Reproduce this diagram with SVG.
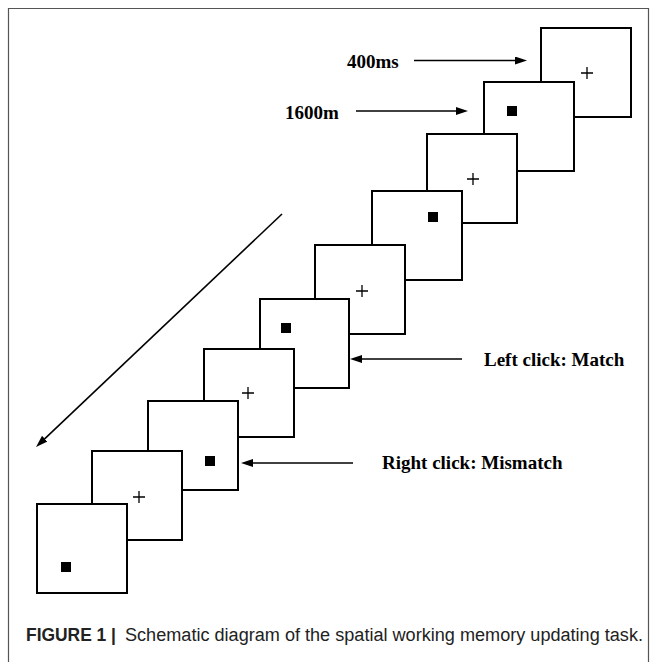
<svg xmlns="http://www.w3.org/2000/svg" width="657" height="662" viewBox="0 0 657 662">
<style>
.frame{fill:none;stroke:#555;stroke-width:1.2}
.box{fill:#fff;stroke:#000;stroke-width:2}
.dot{fill:#000}
.plus{stroke:#000;stroke-width:1.3;fill:none}
.conn{stroke:#000;stroke-width:1.6;fill:none}
.lbl{font-family:"Liberation Serif","Times New Roman",serif;font-weight:bold;font-size:19px;fill:#000}
.cap{font-family:"Liberation Sans",Arial,sans-serif;font-size:18px;fill:#222}
</style>
<defs>
<marker id="ah" viewBox="0 0 12 8" refX="2" refY="4" markerWidth="12" markerHeight="8" markerUnits="userSpaceOnUse" orient="auto">
<path d="M0,0 L12,4 L0,8 z" fill="#000"/>
</marker>
</defs>
<rect width="657" height="662" fill="#fff"/>
<path class="frame" d="M8.5,662 V8.5 H648.5 V662"/>
<g id="b1"><rect class="box" x="541" y="28" width="90" height="89"/><path class="plus" d="M581,73 h12 M587,67 v12"/></g>
<g id="b2"><rect class="box" x="484" y="82" width="90" height="89"/><rect class="dot" x="507" y="106" width="10" height="10"/></g>
<g id="b3"><rect class="box" x="427" y="134" width="90" height="89"/><path class="plus" d="M467,179 h12 M473,173 v12"/></g>
<g id="b4"><rect class="box" x="372" y="191" width="90" height="89"/><rect class="dot" x="428" y="212" width="10" height="10"/></g>
<g id="b5"><rect class="box" x="315" y="245" width="90" height="89"/><path class="plus" d="M356,291 h12 M362,285 v12"/></g>
<g id="b6"><rect class="box" x="260" y="299" width="89" height="89"/><rect class="dot" x="281" y="323" width="10" height="10"/></g>
<g id="b7"><rect class="box" x="204" y="349" width="90" height="88"/><path class="plus" d="M242,393 h12 M248,387 v12"/></g>
<g id="b8"><rect class="box" x="148" y="401" width="90" height="89"/><rect class="dot" x="205" y="456" width="10" height="10"/></g>
<g id="b9"><rect class="box" x="92" y="451" width="90" height="89"/><path class="plus" d="M133,497 h12 M139,491 v12"/></g>
<g id="b10"><rect class="box" x="37" y="504" width="90" height="89"/><rect class="dot" x="61" y="562" width="10" height="10"/></g>
<g id="connectors">
<line class="conn" x1="414" y1="60.5" x2="517" y2="60.5" marker-end="url(#ah)"/>
<line class="conn" x1="356" y1="111" x2="458" y2="111" marker-end="url(#ah)"/>
<line class="conn" x1="462" y1="359" x2="360" y2="359" marker-end="url(#ah)"/>
<line class="conn" x1="353" y1="463" x2="251" y2="463" marker-end="url(#ah)"/>
<line class="conn" x1="282" y1="214" x2="43.3" y2="440.1" marker-end="url(#ah)"/>
</g>
<g id="labels">
<text class="lbl" x="347" y="68">400ms</text>
<text class="lbl" x="285" y="119">1600m</text>
<text class="lbl" x="484" y="366">Left click: Match</text>
<text class="lbl" x="382" y="469">Right click: Mismatch</text>
</g>
<g id="caption">
<text class="cap" x="26" y="641" font-weight="bold" textLength="90" lengthAdjust="spacingAndGlyphs">FIGURE 1 |</text>
<text class="cap" x="125" y="641" textLength="518" lengthAdjust="spacingAndGlyphs">Schematic diagram of the spatial working memory updating task.</text>
</g>
</svg>
